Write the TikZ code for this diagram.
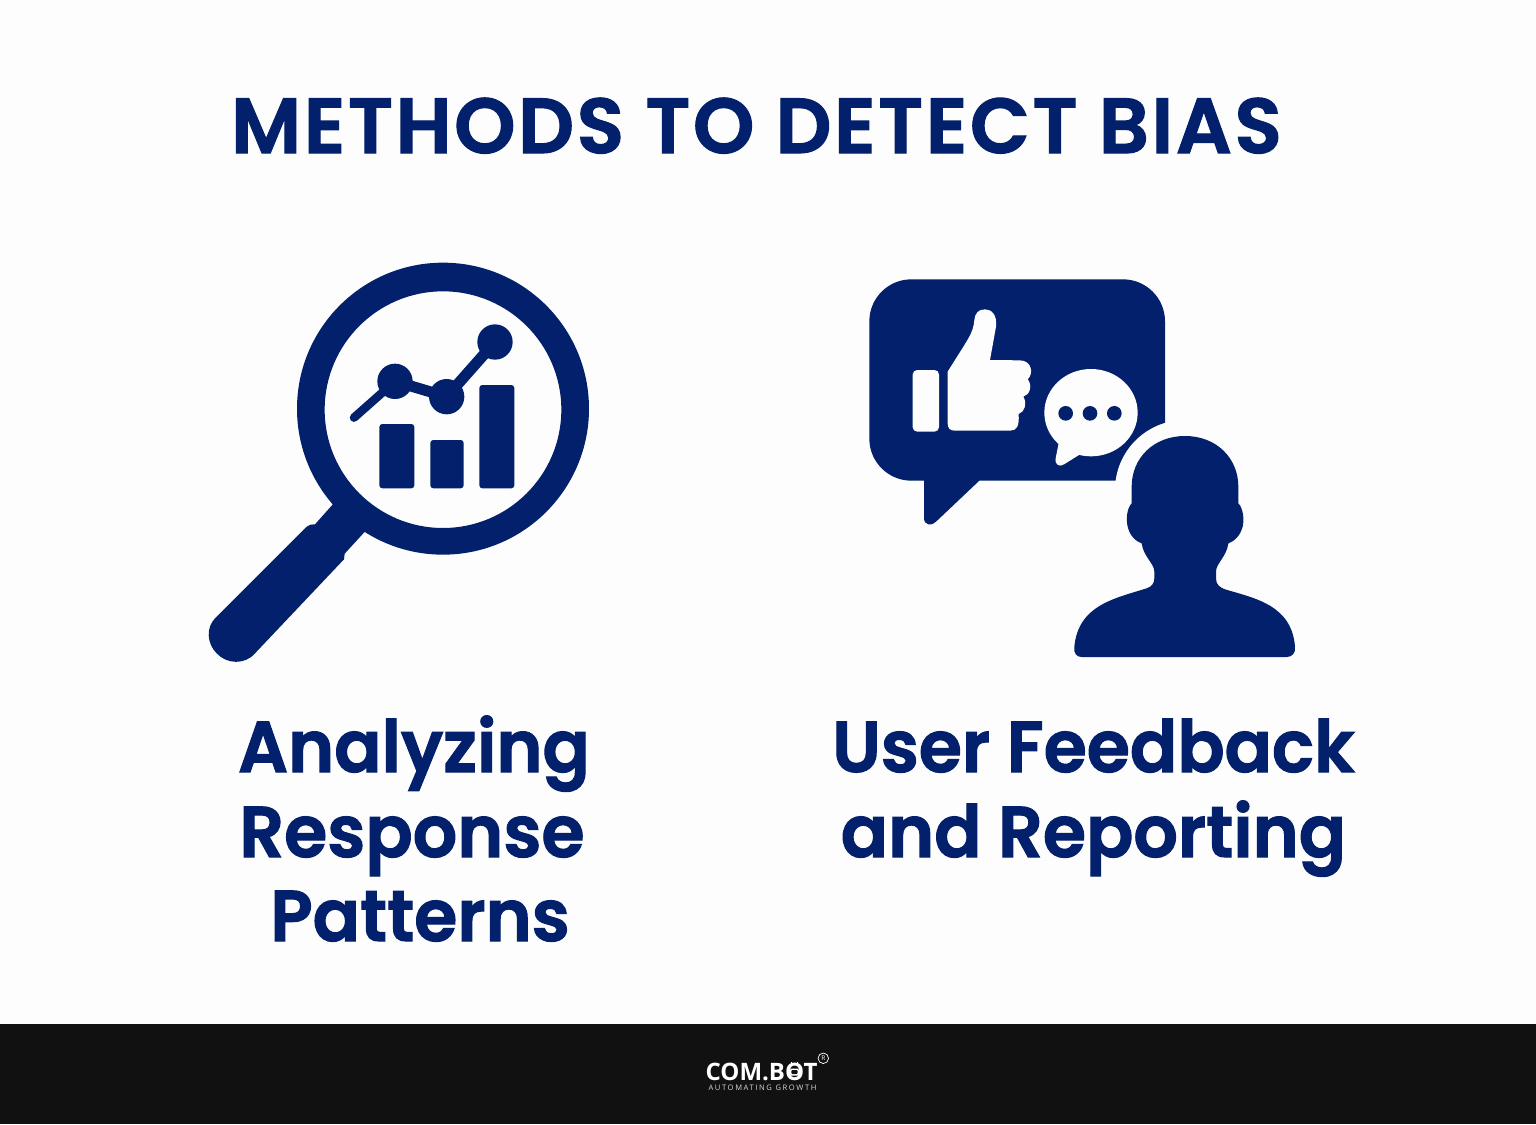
\documentclass[tikz,border=0pt]{standalone}
\usepackage{fontspec}
\setmainfont{Poppins}
\newfontfamily\headfont[LetterSpace=3.4,FakeBold=1.5]{Poppins SemiBold}
\newfontfamily\labelfont[FakeStretch=0.97,FakeBold=1.5]{Poppins SemiBold}
\newfontfamily\logofont{Open Sans}
\newfontfamily\tagfont[LetterSpace=21]{Open Sans}
\definecolor{navy}{HTML}{02206B}
\definecolor{paper}{HTML}{FDFDFD}
\definecolor{band}{HTML}{111111}
\tikzset{
  ink/.style={fill=navy,draw=none},
  cutout/.style={fill=paper,draw=none},
  title/.style={anchor=base,inner sep=0pt,text=navy,font=\headfont\fontsize{78}{78}\selectfont},
  label/.style={anchor=base,inner sep=0pt,text=navy,font=\labelfont\fontsize{72}{72}\selectfont},
  zoomA/.style={shift={(200,255)},scale=1/3},
  zoomB/.style={shift={(860,270)},scale=1/3},
}
\begin{document}
\begin{tikzpicture}[x=1pt,y=-1pt]
\useasboundingbox (0,0) rectangle (1536,1124);
\fill[paper] (0,0) rectangle (1536,1124);
\fill[band] (0,1024) rectangle (1536,1124);
\node[title] (head) at (756.5,153) {METHODS TO DETECT BIAS};
\begin{scope}[zoomA]
  \path[ink,even odd rule] (729,461) circle[radius=438] (729,464) circle[radius=355];
  \path[ink] (395,752) -- (345,808) to[out=170,in=30] (320,815) -- (45,1090)
    .. controls (18,1118) and (20,1165) .. (50,1195)
    .. controls (80,1228) and (135,1230) .. (165,1195)
    -- (430,915) to[out=-70,in=100] (435,895) -- (490,835) -- (530,790) -- (440,700) -- cycle;
  \path[ink,rounded corners=3pt] (538,507) rectangle (643,700);
  \path[ink,rounded corners=3pt] (691,555) rectangle (791,700);
  \path[ink,rounded corners=3pt] (838,390) rectangle (943,700);
  \draw[navy,line width=8.5pt,line cap=round] (462,488) -- (585,379);
  \draw[navy,line width=11pt] (585,379) -- (740,425) -- (885,261);
  \path[ink] (585,379) circle[radius=53] (740,425) circle[radius=53] (885,261) circle[radius=53];
\end{scope}
\begin{scope}[zoomB]
  \path[ink,rounded corners=42pt] (28,28) rectangle (915,632);
  \path[ink] (192,625) -- (192,745) .. controls (192,765) and (215,770) .. (228,755) -- (358,632) -- (358,625) -- cycle;
  \path[cutout] (975,660) circle[radius=210];
  \path[ink] (975,498)
    .. controls (1070,498) and (1135,565) .. (1135,650)
    -- (1135,700) .. controls (1150,715) and (1153,750) .. (1148,770)
    .. controls (1140,800) and (1120,815) .. (1105,820)
    .. controls (1100,860) and (1068,880) .. (1068,905)
    -- (1068,925) .. controls (1068,945) and (1080,952) .. (1095,958)
    .. controls (1185,985) and (1295,1005) .. (1305,1130)
    .. controls (1308,1150) and (1295,1161) .. (1280,1161)
    -- (665,1161) .. controls (650,1161) and (640,1150) .. (643,1130)
    .. controls (655,1005) and (765,985) .. (860,955)
    .. controls (875,950) and (883,940) .. (883,925)
    -- (883,905) .. controls (883,880) and (850,860) .. (845,820)
    .. controls (830,815) and (810,800) .. (803,770)
    .. controls (798,750) and (800,715) .. (815,700)
    -- (815,650) .. controls (815,565) and (880,498) .. (975,498) -- cycle;
  \path[cutout,rounded corners=4.5pt] (158,300) rectangle (237,485);
  \path[cutout] (263,305) -- (263,460) .. controls (263,475) and (270,482) .. (285,482)
    -- (450,482) .. controls (470,482) and (478,470) .. (476,432)
    .. controls (495,425) and (502,400) .. (490,380)
    .. controls (510,375) and (518,345) .. (503,328)
    .. controls (522,310) and (515,272) .. (480,271)
    -- (390,270) -- (408,170) .. controls (412,135) and (395,118) .. (375,118)
    .. controls (355,118) and (345,130) .. (343,150)
    .. controls (340,190) and (325,205) .. (263,305) -- cycle;
  \path[cutout] (693,428) ellipse[x radius=140,y radius=131];
  \path[cutout] (598,510) -- (587,565) .. controls (583,585) and (600,592) .. (612,583) -- (665,550) -- cycle;
  \path[ink] (617,430) circle[radius=22] (690,430) circle[radius=22] (763,430) circle[radius=22];
\end{scope}
\node[label] (a1) at (414,772) {Analyzing};
\node[label] (a2) at (412,857) {Response};
\node[label] (a3) at (420,941) {Patterns};
\node[label] (b1) at (1093.5,772) {User Feedback};
\node[label] (b2) at (1093.5,857) {and Reporting};
\node[anchor=base,inner sep=0pt,text=white,font=\logofont\bfseries\fontsize{24}{24}\selectfont] (logo) at (761.5,1080) {COM.BOT};
% robot details on the logo's O
\fill[white,rounded corners=1.5pt] (790,1068.5) rectangle (799,1075.5);
\fill[band,rounded corners=1pt] (791.3,1070) rectangle (797.7,1074);
\draw[white,line width=1.3pt] (791.5,1062) -- (791.5,1065) (797.5,1062) -- (797.5,1065);
\node[anchor=base,inner sep=0pt,text=white!85!black,font=\tagfont\fontsize{7.6}{8}\selectfont] (tag) at (762.5,1090) {AUTOMATING GROWTH};
\node[circle,draw=white,line width=0.7pt,inner sep=0pt,minimum size=10.5pt,text=white,font=\logofont\fontsize{6.5}{7}\selectfont] (reg) at (823.3,1058.3) {R};
\end{tikzpicture}
\end{document}
